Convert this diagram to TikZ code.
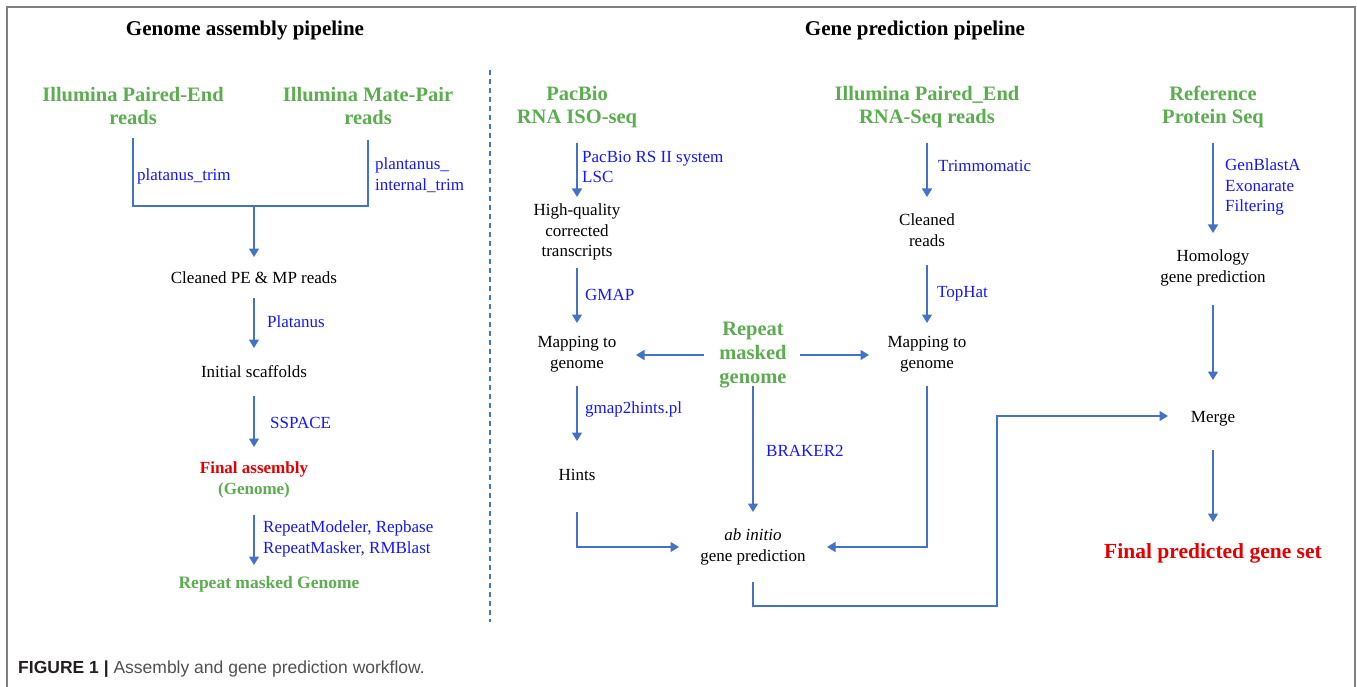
\documentclass[tikz,border=0pt]{standalone}
\usepackage{fontspec}
\setmainfont{Liberation Serif}
\newfontfamily\capfont{Liberation Sans}
\usetikzlibrary{arrows.meta}
\definecolor{ggreen}{RGB}{91,173,79}
\definecolor{tblue}{RGB}{22,22,250}
\definecolor{acol}{RGB}{68,114,196}
\definecolor{fred}{RGB}{228,0,0}
\definecolor{frame}{RGB}{128,128,128}
\definecolor{capdark}{RGB}{35,31,32}
\definecolor{capgray}{RGB}{80,80,80}
\tikzset{
  txt/.style={font=\fontsize{17}{20.5}\selectfont, align=center, inner sep=0pt, text=black},
  grn/.style={font=\fontsize{20.5}{23.5}\selectfont\bfseries, text=ggreen, align=center, inner sep=0pt},
  lbl/.style={font=\fontsize{17}{20.5}\selectfont, text=tblue, align=left, anchor=west, inner sep=0pt},
  ttl/.style={font=\fontsize{21}{24}\selectfont\bfseries, text=black, inner sep=0pt},
  ln/.style={draw=acol, line width=1.4pt},
  arr/.style={ln, -{Triangle[width=10pt,length=8.5pt]}},
}
\begin{document}
\begin{tikzpicture}[x=1pt,y=-1pt]
\useasboundingbox (0,0) rectangle (1357,687);
% frame
\draw[frame, line width=1.8pt] (7,687) -- (7,7) -- (1355,7) -- (1355,687);
% divider
\draw[acol, line width=1.2pt, dash pattern=on 5pt off 4pt] (490,70) -- (490,622);

% ---------- left pipeline ----------
\node[ttl] (t1) at (245,30) {Genome assembly pipeline};
\node[grn] (pe) at (133,106) {Illumina Paired-End\\reads};
\node[grn] (mp) at (368,106) {Illumina Mate-Pair\\reads};
\node[txt] (cl) at (254,278) {Cleaned PE \& MP reads};
\node[txt] (is) at (254,372) {Initial scaffolds};
\node[txt, font=\fontsize{17}{21}\selectfont\bfseries] (fa) at (254,480) {\textcolor{fred}{Final assembly}\\\textcolor{ggreen}{(Genome)}};
\node[grn, font=\fontsize{17.5}{21}\selectfont\bfseries] (rm) at (269,584) {Repeat masked Genome};

\node[lbl] (l1) at (137,176) {platanus\_trim};
\node[lbl] (l2) at (375,175) {plantanus\_\\internal\_trim};
\node[lbl] (l3) at (267,322) {Platanus};
\node[lbl] (l4) at (270,423) {SSPACE};
\node[lbl] (l5) at (263,539) {RepeatModeler, Repbase\\RepeatMasker, RMBlast};

\coordinate (jn) at (254,206);
\draw[ln] (pe.south |- 0,138) -- (pe.south |- jn) -- (mp.south |- jn) -- (mp.south |- 0,140);
\draw[arr] (jn) -- (cl.north |- 0,257);
\draw[arr] (cl.south |- 0,298) -- (is.north |- 0,348);
\draw[arr] (is.south |- 0,396) -- (fa.north |- 0,447);
\draw[arr] (fa.south |- 0,515) -- (fa.south |- 0,565);

% ---------- right pipeline ----------
\node[ttl] (t2) at (915,30) {Gene prediction pipeline};
\node[grn] (pb) at (577,107) {PacBio\\RNA ISO-seq};
\node[grn] (il) at (927,107) {Illumina Paired\_End\\RNA-Seq reads};
\node[grn] (rp) at (1213,107) {Reference\\Protein Seq};

\node[txt] (hq) at (577,232) {High-quality\\corrected\\transcripts};
\node[txt] (mg1) at (577,354) {Mapping to\\genome};
\node[grn, font=\fontsize{20.5}{24}\selectfont\bfseries] (rmg) at (753,355) {Repeat\\masked\\genome};
\node[txt] (mg2) at (927,354) {Mapping to\\genome};
\node[txt] (hints) at (577,475) {Hints};
\node[txt] (ab) at (753,547) {\textit{ab initio}\\gene prediction};
\node[txt] (cr) at (927,230) {Cleaned\\reads};
\node[txt] (hom) at (1213,268) {Homology\\gene prediction};
\node[txt] (merge) at (1213,419) {Merge};
\node[txt, font=\fontsize{21.5}{25}\selectfont\bfseries, text=fred] (fp) at (1213,553) {Final predicted gene set};

\node[lbl] (r1) at (582,167) {PacBio RS II system\\LSC};
\node[lbl] (r2) at (585,295) {GMAP};
\node[lbl] (r3) at (585,409) {gmap2hints.pl};
\node[lbl] (r4) at (766,451) {BRAKER2};
\node[lbl] (r5) at (938,166) {Trimmomatic};
\node[lbl] (r6) at (937,294) {TopHat};
\node[lbl] (r7) at (1225,187) {GenBlastA\\Exonarate\\Filtering};

% free ends of horizontal connectors
\coordinate (mtip) at (1168,416);
\coordinate (bend1) at (997,606);
\coordinate (bend2) at (997,416);

\draw[arr] (pb.south |- 0,143) -- (hq.north |- 0,197);
\draw[arr] (hq.south |- 0,268) -- (mg1.north |- 0,323);
\draw[arr] (rmg.west -| 704,0) -- (rmg.west -| 636,0);
\draw[arr] (rmg.east -| 800,0) -- (rmg.east -| 869,0);
\draw[arr] (rmg.south |- 0,386) -- (ab.north |- 0,512);
\draw[arr] (mg1.south |- 0,386) -- (hints.north |- 0,441);
\draw[arr] (hints.south |- 0,512) -- (hints.south |- ab.west) -- (ab.west -| 679,0);
\draw[arr] (mg2.south |- 0,386) -- (mg2.south |- ab.east) -- (ab.east -| 827,0);
\draw[arr] (ab.south |- 0,582) -- (ab.south |- bend1) -- (bend1) -- (bend2) -- (mtip);
\draw[arr] (il.south |- 0,143) -- (cr.north |- 0,197);
\draw[arr] (cr.south |- 0,265) -- (mg2.north |- 0,323);
\draw[arr] (rp.south |- 0,143) -- (hom.north |- 0,233);
\draw[arr] (hom.south |- 0,305) -- (merge.north |- 0,380);
\draw[arr] (merge.south |- 0,450) -- (fp.north |- 0,522);

% caption
\node[anchor=west, inner sep=0pt, font=\capfont\fontsize{17.5}{20}\selectfont] (cap) at (18,669)
  {\textcolor{capdark}{\bfseries FIGURE 1 |} \textcolor{capgray}{Assembly and gene prediction workflow.}};
\end{tikzpicture}
\end{document}
